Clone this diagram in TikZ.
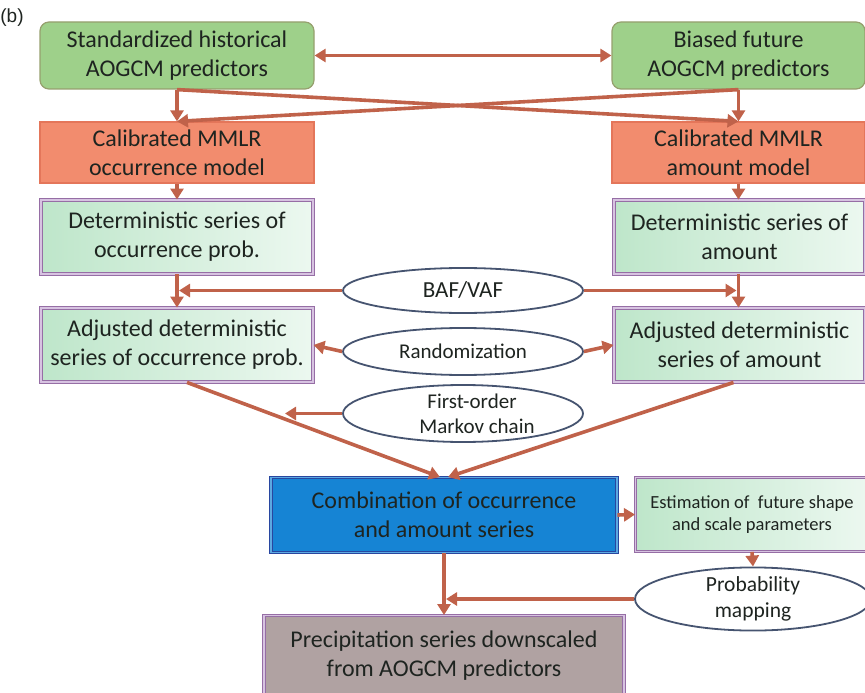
\documentclass[tikz,border=0pt]{standalone}
\usepackage{fontspec}
\setmainfont{Carlito}
\newfontfamily\arialf{Liberation Sans}
\usetikzlibrary{shapes.geometric,arrows.meta}
\definecolor{arrc}{RGB}{192,98,74}
\definecolor{txt}{RGB}{30,36,32}
\definecolor{grn}{RGB}{158,208,138}
\definecolor{grnb}{RGB}{150,160,110}
\definecolor{org}{RGB}{242,140,110}
\definecolor{orgb}{RGB}{228,118,90}
\definecolor{mint}{RGB}{190,230,202}
\definecolor{mintl}{RGB}{236,248,240}
\definecolor{frm}{RGB}{150,110,165}
\definecolor{frml}{RGB}{215,195,225}
\definecolor{blu}{RGB}{22,132,212}
\definecolor{blub}{RGB}{40,70,160}
\definecolor{gry}{RGB}{176,162,162}
\definecolor{ell}{RGB}{70,84,112}
\begin{document}
\begin{tikzpicture}[x=1pt,y=-1pt,
  box/.style={rectangle, inner sep=0pt, align=center, text=txt, font=\fontsize{24}{29}\selectfont},
  greenbox/.style={box, rounded corners=9pt, fill=grn, draw=grnb, line width=1.2pt, minimum height=67pt},
  orgbox/.style={box, fill=org, draw=orgb, line width=1.2pt, minimum height=61pt},
  bevel/.style={draw=frm, double=frml, double distance=1.6pt, line width=0.9pt},
  detbox/.style={box, bevel, left color=mint, right color=mintl, minimum height=74pt},
  ovalnode/.style={ellipse, inner sep=0pt, align=center, text=txt, fill=white, draw=ell, line width=1.8pt, minimum width=240pt},
  arr/.style={draw=arrc, line width=3.6pt, -{Triangle[length=11pt,width=13pt]}},
  biarr/.style={draw=arrc, line width=3.6pt, {Triangle[length=11pt,width=13pt]}-{Triangle[length=11pt,width=13pt]}}
]
\useasboundingbox (0,0) rectangle (865,693);
\node[font=\arialf\fontsize{19}{22}\selectfont, text=txt] (lbl) at (12,18) {(b)};

\node[greenbox, minimum width=274pt] (h1) at (177,55.5) {Standardized historical\\AOGCM predictors};
\node[greenbox, minimum width=253pt] (h2) at (738.5,55.5) {Biased future\\AOGCM predictors};
\node[orgbox, minimum width=274pt] (o1) at (177,152.5) {Calibrated MMLR\\occurrence model};
\node[orgbox, minimum width=253pt] (o2) at (738.5,152.5) {Calibrated MMLR\\amount model};
\node[detbox, minimum width=272pt] (d1) at (177,237) {Deterministic series of\\occurrence prob.};
\node[detbox, minimum width=251pt] (d2) at (739.5,237) {Deterministic series of\\amount};
\node[detbox, minimum width=272pt] (a1) at (177,345) {Adjusted deterministic\\series of occurrence prob.};
\node[detbox, minimum width=251pt] (a2) at (739.5,345) {Adjusted deterministic\\series of amount};

\node[ovalnode, minimum height=45pt, font=\fontsize{23}{24}\selectfont] (baf) at (463,290.5) {BAF/VAF};
\node[ovalnode, minimum height=47pt, font=\fontsize{21}{24}\selectfont] (rnd) at (463,351.5) {Randomization};
\node[ovalnode, minimum height=57pt, font=\fontsize{21}{25}\selectfont] (mkv) at (463,413.5) {\hspace*{18pt}First-order\\\hspace*{28pt}Markov chain};

\node[box, bevel, draw=blub, fill=blu, double=blu!70!white, minimum width=346pt, minimum height=75pt] (comb) at (444,515) {Combination of occurrence\\and amount series};
\node[detbox, minimum width=233pt, minimum height=74pt, font=\fontsize{18.5}{22}\selectfont] (est) at (752,514.5) {Estimation of~ future shape\\and scale parameters};
\node[ovalnode, minimum width=236pt, minimum height=62pt, font=\fontsize{21.5}{26}\selectfont] (prob) at (753,599) {Probability\\mapping};
\node[box, bevel, fill=gry, minimum width=360pt, minimum height=80pt] (prec) at (444,655.5) {Precipitation series downscaled\\from AOGCM predictors};

\draw[biarr] (h1.east) -- (h2.west);
\draw[arr] (h1.south) -- (o1.north);
\draw[arr] (h2.south) -- (o2.north);
\draw[arr] (h1.south) -- (o2.north);
\draw[arr] (h2.south) -- (o1.north);
\draw[arr] (o1.south) -- (d1.north);
\draw[arr] (o2.south) -- (o2.south |- d2.north);
\draw[arr] (d1.south) -- (a1.north);
\draw[arr] (o2.south |- d2.south) -- (o2.south |- a2.north);
\draw[arr] (baf.west) -- ([xshift=2pt]baf.west -| d1.south);
\draw[arr] (baf.east) -- ([xshift=-2pt]baf.east -| o2.south);
\draw[arr] (rnd.west) -- (a1.east);
\draw[arr] (rnd.east) -- (a2.west);
\coordinate (mk) at (285,413.5);
\draw[arr] (mkv.west) -- (mk);
\draw[arr] ([xshift=10pt]a1.south) -- ([xshift=-4pt]comb.north);
\draw[arr] ([xshift=-6pt]a2.south) -- ([xshift=4pt]comb.north);
\draw[arr] (comb.east) -- (est.west);
\draw[arr] (est.south) -- (prob.north);
\draw[arr] (comb.south) -- (prec.north);
\draw[arr] (prob.west) -- ([xshift=2pt]prob.west -| comb.south);
\end{tikzpicture}
\end{document}
